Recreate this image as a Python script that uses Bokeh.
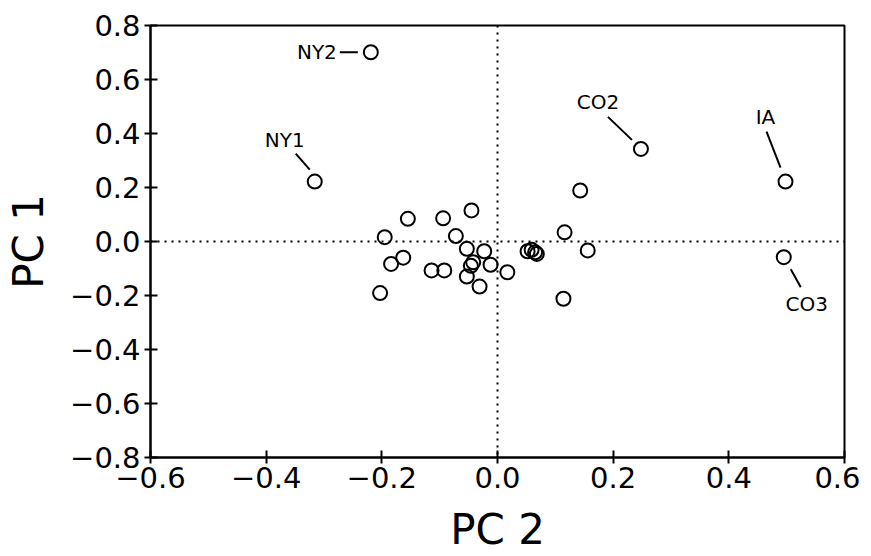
from bokeh.plotting import figure
from bokeh.models import Range1d, FixedTicker, CustomJSTickFormatter, Span, ColumnDataSource
from bokeh.core.properties import value
from bokeh.embed import file_html
from bokeh.resources import INLINE

# ---- data ----
pc2 = [0.143, -0.155, -0.094, -0.045, -0.195, -0.072, 0.116, -0.053, -0.023, -0.163,
       -0.184, -0.042, -0.046, -0.012, -0.114, -0.092, -0.053, -0.031, 0.017, -0.203,
       0.114, 0.156, 0.052, 0.059, 0.065, 0.068]
pc1 = [0.189, 0.084, 0.086, 0.115, 0.016, 0.020, 0.034, -0.027, -0.036, -0.060,
       -0.083, -0.077, -0.090, -0.086, -0.107, -0.107, -0.130, -0.167, -0.114, -0.191,
       -0.212, -0.033, -0.036, -0.031, -0.040, -0.046]

labels = ["NY2", "NY1", "CO2", "IA", "CO3"]
lab_pc2 = [-0.219, -0.316, 0.248, 0.498, 0.495]
lab_pc1 = [0.701, 0.222, 0.343, 0.222, -0.058]

x_ticks = [-0.6, -0.4, -0.2, 0.0, 0.2, 0.4, 0.6]
y_ticks = [-0.8, -0.6, -0.4, -0.2, 0.0, 0.2, 0.4, 0.6, 0.8]

# ---- styling / label placement (screen pixels relative to point) ----
X0, X1, Y0, Y1 = -0.6, 0.6, -0.8, 0.8
W, H = 860, 556
ML, MR, MT, MB = 150, 16, 25, 99
fw, fh = W - ML - MR, H - MT - MB
sx = fw / (X1 - X0)
sy = fh / (Y1 - Y0)

# leader line (start, end) offsets and text offsets, align, baseline
leader = [((-31, 0), (-13, 0)), ((-19, -28), (-5, -12)), ((-33, -32), (-9, -9)),
          ((-19, -50), (-5, -14)), ((7, 12), (17, 30))]
txt_off = [(-34, 0), (-30, -30), (-43, -35), (-20, -53), (23, 35)]
txt_align = ["right", "center", "center", "center", "center"]
txt_base = ["middle", "bottom", "bottom", "bottom", "top"]

p = figure(width=W, height=H, output_backend="svg", toolbar_location=None,
           x_range=Range1d(X0, X1), y_range=Range1d(Y0, Y1),
           min_border_left=ML, min_border_right=MR, min_border_top=MT, min_border_bottom=MB)
p.background_fill_color = "white"
p.border_fill_color = "white"
p.grid.visible = False
p.outline_line_color = "black"
p.outline_line_width = 2

fmt = CustomJSTickFormatter(code="return tick.toFixed(1).replace('-', '\u2212');")
p.xaxis.ticker = FixedTicker(ticks=x_ticks)
p.yaxis.ticker = FixedTicker(ticks=y_ticks)
p.xaxis.formatter = fmt
p.yaxis.formatter = fmt
for ax in (p.xaxis[0], p.yaxis[0]):
    ax.axis_line_width = 2
    ax.axis_line_color = "black"
    ax.major_tick_line_width = 2
    ax.major_tick_line_color = "black"
    ax.major_tick_in = 7
    ax.major_tick_out = 6
    ax.minor_tick_line_color = None
    ax.major_label_text_font = "DejaVu Sans"
    ax.major_label_text_font_size = "29px"
    ax.major_label_text_color = "black"
    ax.axis_label_text_font = "DejaVu Sans"
    ax.axis_label_text_font_size = "42px"
    ax.axis_label_text_font_style = "normal"
    ax.axis_label_text_color = "black"
p.xaxis.axis_label = "PC 2"
p.yaxis.axis_label = "PC 1"
p.xaxis.major_label_standoff = 3
p.yaxis.major_label_standoff = 4
p.xaxis.axis_label_standoff = 14
p.yaxis.axis_label_standoff = 14

p.add_layout(Span(location=0, dimension="height", line_color="black", line_width=2, line_dash="2 5"))
p.add_layout(Span(location=0, dimension="width", line_color="black", line_width=2, line_dash="2 5"))

p.scatter(pc2, pc1, marker="circle", size=14, fill_color=None, line_color="black", line_width=2)
p.scatter(lab_pc2, lab_pc1, marker="circle", size=14, fill_color=None, line_color="black", line_width=2)

x0s, y0s, x1s, y1s = [], [], [], []
for xv, yv, ((ax0, ay0), (ax1, ay1)) in zip(lab_pc2, lab_pc1, leader):
    x0s.append(xv + ax0 / sx); y0s.append(yv - ay0 / sy)
    x1s.append(xv + ax1 / sx); y1s.append(yv - ay1 / sy)
p.segment(x0s, y0s, x1s, y1s, line_color="black", line_width=2)

src = ColumnDataSource(dict(x=lab_pc2, y=lab_pc1, t=labels,
                            xo=[o[0] for o in txt_off], yo=[o[1] for o in txt_off],
                            al=txt_align, bl=txt_base))
p.text(x="x", y="y", text="t", x_offset="xo", y_offset="yo", text_align="al",
       text_baseline="bl", source=src, text_font=value("DejaVu Sans"),
       text_font_size="20px", text_color="black")

open("out.html", "w").write(file_html(p, INLINE))
